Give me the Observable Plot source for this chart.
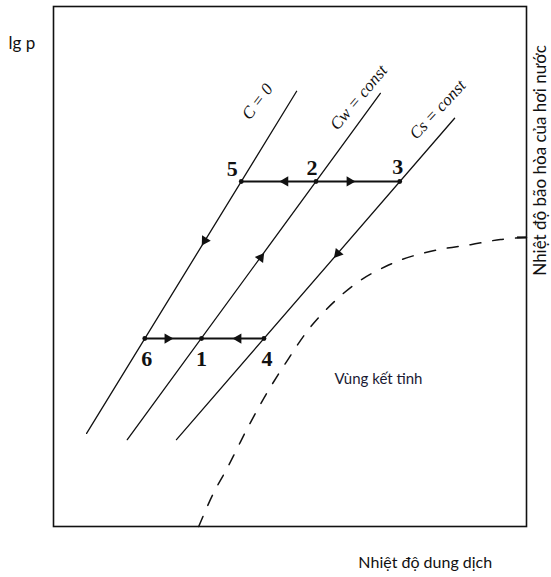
<!DOCTYPE html>
<html>
<head>
<meta charset="utf-8">
<script src="https://cdn.jsdelivr.net/npm/d3@7"></script>
<script src="https://cdn.jsdelivr.net/npm/@observablehq/plot@0.6"></script>
<style>
  html, body { margin: 0; padding: 0; background: #fff; }
</style>
</head>
<body>
<div id="chart"></div>
<script>
// ---- data (schematic units, 0–100 on both axes) ----
const lineNames  = ["C = 0", "Cw = const", "Cs = const"];
const lineStartX = [7.0, 15.6, 26.0];
const lineStartY = [17.9, 16.7, 16.7];
const lineEndX   = [51.4, 69.1, 84.8];
const lineEndY   = [83.7, 83.3, 78.5];

const pointLabels = ["5", "2", "3", "6", "1", "4"];
const pointX      = [39.7, 55.5, 73.2, 19.3, 31.3, 44.5];
const pointY      = [66.35, 66.35, 66.35, 36.15, 36.15, 36.15];

const arrowX    = [49.0, 62.6, 24.1, 39.1, 32.0, 43.8, 60.1];
const arrowY    = [66.35, 66.35, 36.15, 36.15, 55.0, 51.7, 52.5];
const arrowDir  = ["left", "right", "right", "left", "down", "up", "down"];
const arrowLine = [-1, -1, -1, -1, 0, 1, 2];

const curveX = [30.7, 33.6, 37.0, 41.0, 45.2, 49.7, 54.1, 59.2, 64.5, 70.2, 75.5, 81.8, 88.2, 94.5, 100];
const curveY = [0, 6.0, 11.7, 18.9, 25.8, 32.3, 38.1, 43.1, 47.1, 50.0, 51.9, 53.3, 54.2, 55.2, 55.6];

const yAxisLabel = "lg p";
const xAxisLabel = "Nhiệt độ dung dịch";
const rightLabel = "Nhiệt độ bão hòa của hơi nước";
const regionLabel = "Vùng kết tinh";

// ---- layout ----
const W = 551, H = 577;
const mL = 53, mR = 25, mT = 6, mB = 51;
const kx = (W - mL - mR) / 100, ky = (H - mT - mB) / 100;

const segments = lineNames.flatMap((name, i) => [
  {name, x: lineStartX[i], y: lineStartY[i]},
  {name, x: lineEndX[i], y: lineEndY[i]}
]);
const points = pointLabels.map((label, i) => ({label, x: pointX[i], y: pointY[i]}));
const rows = [[0, 1, 2], [3, 4, 5]];
const horiz = rows.flatMap((r, j) => [
  {row: j, x: pointX[r[0]], y: pointY[r[0]]},
  {row: j, x: pointX[r[2]], y: pointY[r[2]]}
]);
const arrows = arrowX.map((x, i) => {
  let angle;
  if (arrowDir[i] === "left") angle = 270;
  else if (arrowDir[i] === "right") angle = 90;
  else {
    const l = arrowLine[i];
    const dxp = (lineEndX[l] - lineStartX[l]) * kx;
    const dyp = -(lineEndY[l] - lineStartY[l]) * ky;
    angle = Math.atan2(dxp, -dyp) * 180 / Math.PI;
    if (arrowDir[i] === "down") angle += 180;
  }
  return {x, y: arrowY[i], angle};
});
const curve = curveX.map((x, i) => ({x, y: curveY[i]}));
const lineLabelPos = [
  {text: lineNames[0], x: 43.1, y: 81.7, rotate: -53},
  {text: lineNames[1], x: 64.5, y: 82.5, rotate: -50},
  {text: lineNames[2], x: 81.2, y: 80.2, rotate: -47}
];
const labelDx = [-9, -4, -2, 2, 0, 3];
const labelDy = [-13, -14, -15, 20, 20, 20];

const sans = "Lato, 'Open Sans', sans-serif";
const serif = "'Liberation Serif', 'DejaVu Serif', serif";

const chart = Plot.plot({
  width: W, height: H,
  marginLeft: mL, marginRight: mR, marginTop: mT, marginBottom: mB,
  x: {domain: [0, 100], axis: null},
  y: {domain: [0, 100], axis: null},
  style: {background: "#fff", overflow: "visible"},
  marks: [
    Plot.frame({stroke: "#111", strokeWidth: 1.6}),
    Plot.line(curve, {x: "x", y: "y", curve: "catmull-rom", stroke: "#111", strokeWidth: 1.5, strokeDasharray: "11,12"}),
    Plot.ruleY([curveY[curveY.length - 1]], {x1: 98.1, x2: 100, stroke: "#111", strokeWidth: 2}),
    Plot.line(segments, {x: "x", y: "y", z: "name", stroke: "#111", strokeWidth: 1.3}),
    Plot.line(horiz, {x: "x", y: "y", z: "row", stroke: "#111", strokeWidth: 2}),
    Plot.dot(points, {x: "x", y: "y", r: 2.4, fill: "#111"}),
    Plot.dot(arrows, {x: "x", y: "y", symbol: "triangle", r: 3.8, fill: "#111", rotate: "angle"}),
    ...points.map((p, i) => Plot.text([p], {x: "x", y: "y", text: "label", dx: labelDx[i], dy: labelDy[i],
      fontFamily: serif, fontWeight: "bold", fontSize: 22, fill: "#111"})),
    Plot.text(lineLabelPos, {x: "x", y: "y", text: "text", rotate: "rotate",
      fontFamily: serif, fontStyle: "italic", fontSize: 17, fill: "#111"}),
    Plot.text([regionLabel], {x: 68.7, y: 28.4, fontFamily: sans, fontSize: 15, fill: "#1a1a33"}),
    Plot.text([yAxisLabel], {x: -9.5, y: 92.9, textAnchor: "start", fontFamily: sans, fontSize: 17, fill: "#111"}),
    Plot.text([xAxisLabel], {x: 78.6, y: -6.9, fontFamily: sans, fontSize: 16, fill: "#111"}),
    Plot.text([rightLabel], {x: 102.9, y: 70.4, rotate: -90, fontFamily: sans, fontSize: 17, fill: "#111"})
  ]
});
document.getElementById("chart").appendChild(chart);
</script>
</body>
</html>
